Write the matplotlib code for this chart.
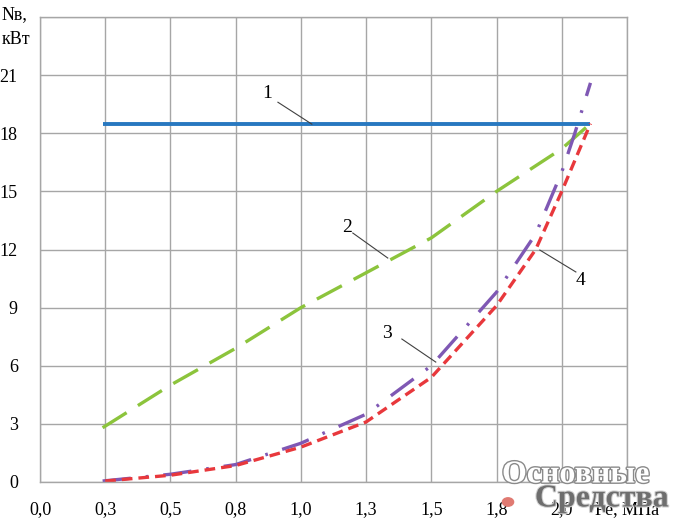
import matplotlib
matplotlib.use("Agg")
import matplotlib.pyplot as plt
import matplotlib.patheffects as pe

# curve 1: constant power
x1 = [0.24, 2.11]
y1 = [18.5, 18.5]
# curve 2
x2 = [0.24, 0.5, 0.75, 1.0, 1.25, 1.5, 1.75, 2.0, 2.11]
y2 = [2.8, 5.0, 6.9, 9.0, 10.8, 12.6, 15.0, 17.2, 18.5]
# curve 3
x3 = [0.24, 0.5, 0.75, 1.0, 1.25, 1.5, 1.75, 1.9, 2.0, 2.05, 2.11]
y3 = [0.05, 0.4, 0.9, 2.0, 3.5, 6.0, 9.8, 12.8, 16.0, 18.0, 20.6]
# curve 4
x4 = [0.25, 0.5, 0.75, 1.0, 1.25, 1.5, 1.75, 1.9, 2.0, 2.11]
y4 = [0.05, 0.35, 0.85, 1.8, 3.1, 5.4, 9.1, 12.0, 15.0, 18.5]

xticks = [0.0, 0.25, 0.5, 0.75, 1.0, 1.25, 1.5, 1.75, 2.0, 2.25]
xlabels = ["0,0", "0,3", "0,5", "0,8", "1,0", "1,3", "1,5", "1,8", "2,0", "Pe, МПа"]
yticks = [0, 3, 6, 9, 12, 15, 18, 21, 24]
ylabels = ["0", "3", "6", "9", "12", "15", "18", "21", ""]

# curve labels: (text, text pos, leader start, leader end)
notes = [
    ("1", (0.87, 20.07), (0.912, 19.6), (1.042, 18.47)),
    ("2", (1.176, 13.16), (1.199, 12.85), (1.333, 11.56)),
    ("3", (1.330, 7.69), (1.387, 7.38), (1.517, 6.19)),
    ("4", (2.073, 10.42), (2.054, 10.84), (1.916, 11.97)),
]

plt.rcParams["font.family"] = ["Liberation Serif", "DejaVu Serif"]
plt.rcParams["font.size"] = 13

fig = plt.figure(figsize=(7, 5.26), dpi=100)
ax = fig.add_axes([40 / 700, 44 / 526, 587 / 700, 465 / 526])
ax.set_xlim(0, 2.25)
ax.set_ylim(0, 24)
ax.set_xticks(xticks, xlabels)
ax.set_yticks(yticks, ylabels)
ax.tick_params(length=0, pad=14)
ax.tick_params(axis="y", pad=16)
ax.grid(color="#a6a6a6", linewidth=1.0)
for s in ax.spines.values():
    s.set_color("#a6a6a6")
    s.set_linewidth(1.0)
ax.set_axisbelow(True)

ax.plot(x1, y1, color="#2878c0", lw=2.8, solid_capstyle="butt")
ax.plot(x2, y2, color="#8cc43c", lw=2.4, dashes=(8.5, 4.0))
ax.plot(x3, y3, color="#7f58b4", lw=2.4, dashes=(8.5, 4.5, 0.8, 4.5))
ax.plot(x4, y4, color="#e8383c", lw=2.4, dashes=(3.2, 1.8))

for txt, tpos, a, b in notes:
    ax.text(tpos[0], tpos[1], txt, ha="center", va="center", fontsize=14)
    ax.plot([a[0], b[0]], [a[1], b[1]], color="#404040", lw=0.8)

fig.text(2 / 700, 1 - 15 / 526, "Nв,", ha="left", va="center", fontsize=13)
fig.text(2 / 700, 1 - 40 / 526, "кВт", ha="left", va="center", fontsize=13)

# watermark
fig.text(576 / 700, 1 - 475 / 526, "Основные", ha="center", va="center",
         fontsize=23, fontweight="bold", color="white",
         path_effects=[pe.withStroke(linewidth=2.0, foreground="#8a8a8a")])
fig.text(602 / 700, 1 - 499 / 526, "Средства", ha="center", va="center",
         fontsize=23, fontweight="bold", color="#6e6e6e",
         path_effects=[pe.withStroke(linewidth=1.5, foreground="#d0d0d0")])
fig.patches.append(matplotlib.patches.Circle((508 / 700, 1 - 502 / 526), 0.008,
                                             transform=fig.transFigure,
                                             color="#e07a72"))

fig.savefig("out.png", dpi=100)
